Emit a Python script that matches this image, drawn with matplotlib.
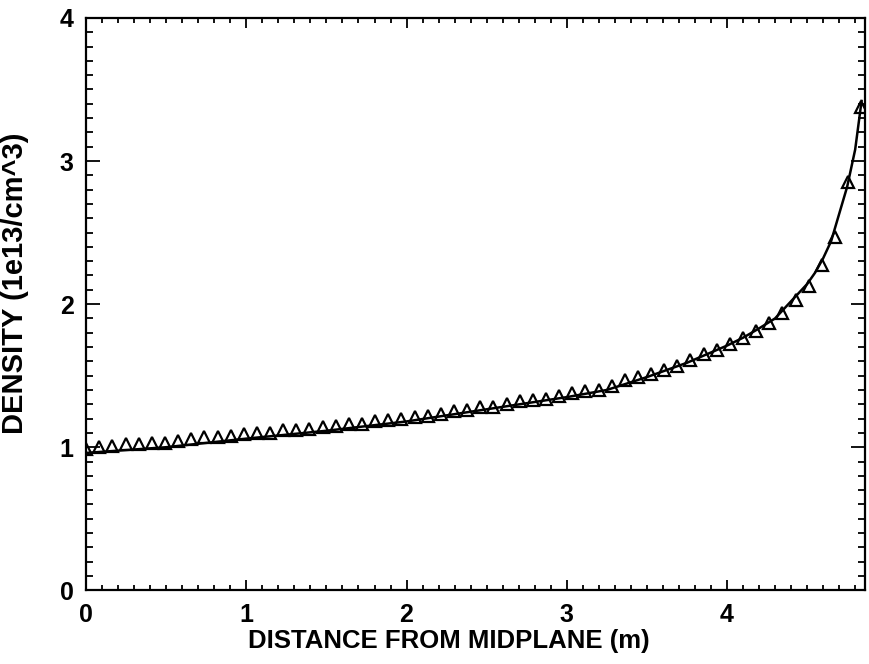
"""
Density profile vs distance from midplane — recreated from a scanned IDL plot.
Output: out.png
"""

import numpy as np
import matplotlib
matplotlib.use('Agg')
import matplotlib.pyplot as plt
from matplotlib.ticker import MultipleLocator

# ── Data ──────────────────────────────────────────────────────────────────────

# triangles: 60 evenly spaced samples, step ~0.082 m
TRI_STEP = 0.082
tri_density = [
    0.99, 1.00, 1.01, 1.02, 1.02, 1.03, 1.03, 1.04, 1.06, 1.07,
    1.07, 1.08, 1.09, 1.10, 1.10, 1.12, 1.12, 1.13, 1.14, 1.15,
    1.16, 1.16, 1.18, 1.19, 1.20, 1.21, 1.22, 1.23, 1.25, 1.26,
    1.28, 1.28, 1.30, 1.32, 1.33, 1.34, 1.36, 1.38, 1.39, 1.40,
    1.43, 1.47, 1.49, 1.51, 1.54, 1.57, 1.61, 1.65, 1.68, 1.72,
    1.76, 1.81, 1.87, 1.94, 2.03, 2.13, 2.27, 2.47, 2.85, 3.38,
]
tri_x = [i * TRI_STEP for i in range(len(tri_density))]

# solid curve
line_x = [0.0, 0.5, 1.0, 1.5, 2.0, 2.5, 3.0, 3.25, 3.5, 3.75,
          4.0, 4.1, 4.2, 4.3, 4.4, 4.5, 4.55, 4.6, 4.65, 4.7,
          4.75, 4.8, 4.84]
line_density = [0.96, 1.00, 1.06, 1.115, 1.18, 1.265, 1.35, 1.40, 1.49, 1.59,
                1.71, 1.765, 1.83, 1.90, 2.02, 2.14, 2.22, 2.32, 2.44, 2.63,
                2.82, 3.08, 3.42]

X_LABEL = "DISTANCE FROM MIDPLANE (m)"
Y_LABEL = "DENSITY (1e13/cm^3)"
X_TICKS = [0, 1, 2, 3, 4]
Y_TICKS = [0, 1, 2, 3, 4]

# ── Plot ──────────────────────────────────────────────────────────────────────

plt.rcParams['font.family'] = ['Liberation Sans', 'DejaVu Sans']
plt.rcParams['font.weight'] = 'bold'

fig = plt.figure(figsize=(8.7, 6.64), dpi=100)
ax = fig.add_axes([0.099, 0.111, 0.895, 0.862])

ax.plot(line_x, line_density, color='black', lw=1.8)
ax.plot(tri_x, tri_density, ls='none', marker='^', ms=9,
        mfc='none', mec='black', mew=1.6)

ax.set_xlim(0, 4.86)
ax.set_ylim(0, 4)
ax.set_xticks(X_TICKS)
ax.set_yticks(Y_TICKS)
ax.xaxis.set_minor_locator(MultipleLocator(0.1))
ax.yaxis.set_minor_locator(MultipleLocator(0.1))

for s in ax.spines.values():
    s.set_linewidth(1.6)

ax.tick_params(axis='both', which='both', direction='in',
               top=True, right=True, width=1.3, labelsize=18)
ax.tick_params(axis='x', which='major', length=7, pad=9)
ax.tick_params(axis='x', which='minor', length=3.5)
ax.tick_params(axis='y', which='major', length=10, pad=9)
ax.tick_params(axis='y', which='minor', length=5)
for lbl in ax.get_xticklabels() + ax.get_yticklabels():
    lbl.set_fontweight('bold')

ax.set_xlabel(X_LABEL, fontsize=18.5, fontweight='bold')
ax.set_ylabel(Y_LABEL, fontsize=21, fontweight='bold')
ax.xaxis.set_label_coords(0.466, -0.067)
ax.yaxis.set_label_coords(-0.073, 0.537)

fig.savefig("out.png", dpi=100)
